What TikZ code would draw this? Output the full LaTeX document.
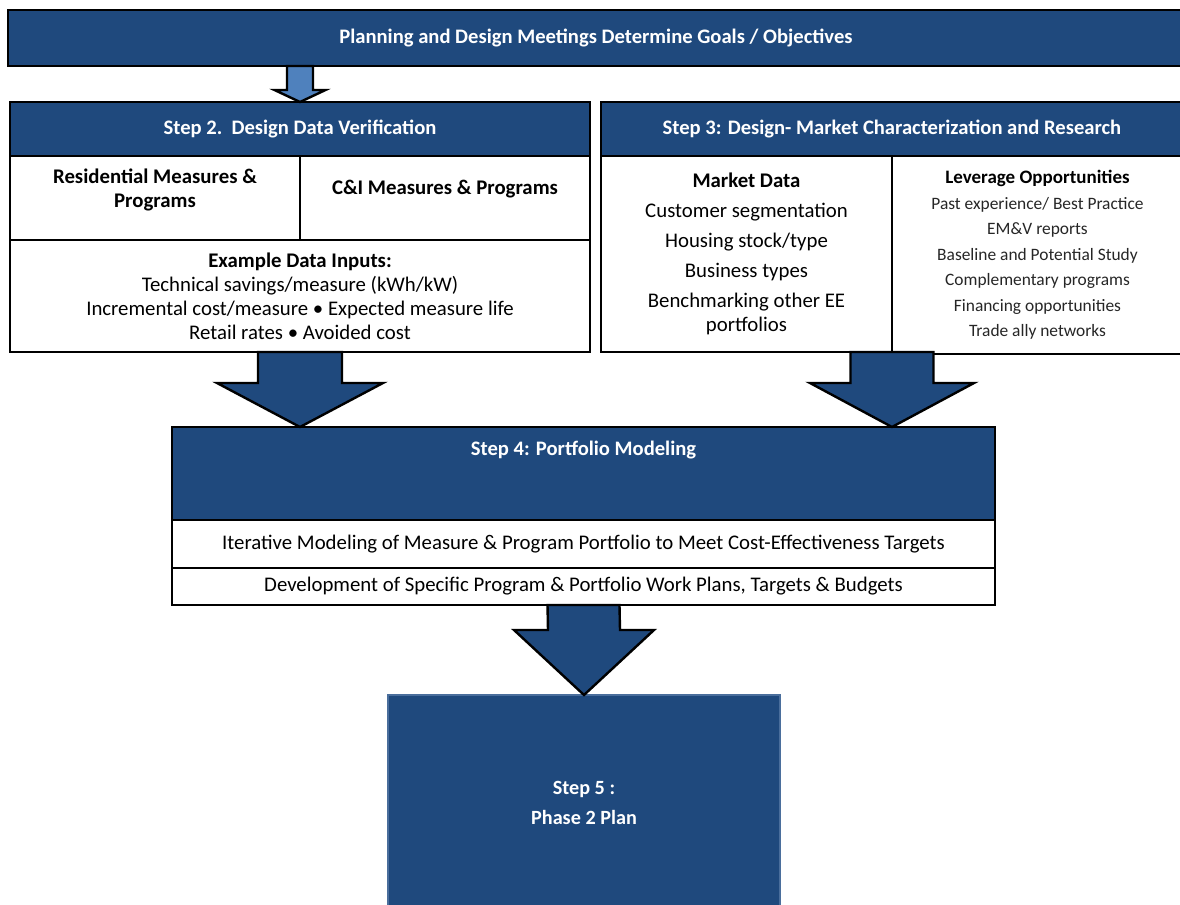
\documentclass[tikz,border=0pt]{standalone}
\usepackage{fontspec}
\setmainfont{Carlito}
\usetikzlibrary{positioning,calc}
\definecolor{darkblue}{HTML}{1F497D}
\definecolor{lightblue}{HTML}{4F81BD}
\definecolor{edgeblue}{HTML}{4A6E9C}

\newcommand{\blockarrow}[6][bigarrow]{%
  \draw[#1] ($(#2)+(-#4,0)$) -- ($(#2)+(#4,0)$)
    -- ($(#3)+(#4,-#6)$) -- ($(#3)+(#5,-#6)$) -- (#3)
    -- ($(#3)+(-#5,-#6)$) -- ($(#3)+(-#4,-#6)$) -- cycle;}

\begin{document}
\begin{tikzpicture}[x=0.5pt,y=-0.5pt,
    header/.style={draw=black, line width=1.2pt, fill=darkblue, text=white,
      font=\fontsize{10.3}{12}\selectfont\bfseries, inner sep=0pt, outer sep=0pt, align=center},
    cell/.style={draw=black, line width=1.2pt, fill=white, inner sep=0pt, outer sep=0pt,
      align=center, font=\fontsize{10.4}{12}\selectfont},
    boldcell/.style={cell, font=\fontsize{10.4}{12}\selectfont\bfseries},
    thincell/.style={cell, line width=0.7pt},
    bigarrow/.style={draw=black, line width=1.2pt, fill=darkblue, line join=miter},
    smallarrow/.style={bigarrow, fill=lightblue}]
  \useasboundingbox (0,0) rectangle (1180,905);
  \clip (0,0) rectangle (1180,905);

  % Bandeau du haut
  \node[header, minimum width=588pt, minimum height=28pt] (plan) at (596,38)
    {Planning and Design Meetings Determine Goals / Objectives};

  % Etape 2
  \node[header, minimum width=290pt, minimum height=27pt] (step2) at (300,129)
    {Step 2.\ \ Design Data Verification};
  \node[boldcell, minimum width=145pt, minimum height=42pt,
    text depth=10pt, below right=0pt and 0pt of step2.south west] (res)
    {Residential Measures \&\\Programs};
  \node[boldcell, minimum width=145pt, minimum height=42pt,
    text depth=11pt, right=0pt of res] (ci) {C\&I Measures \& Programs};
  \node[cell, minimum width=290pt, minimum height=56pt,
    below right=0pt and 0pt of res.south west] (inputs)
    {\textbf{Example Data Inputs:}\\Technical savings/measure (kWh/kW)\\
     Incremental cost/measure \textbullet{} Expected measure life\\Retail rates \textbullet{} Avoided cost};

  % Etape 3
  \node[header, minimum width=291pt, minimum height=27pt] (step3) at (892,129)
    {Step 3: Design- Market Characterization and Research};
  \node[cell, minimum width=145.5pt, minimum height=98pt,
    below right=0pt and 0pt of step3.south west] (market)
    {\textbf{Market Data}\\[3pt]Customer segmentation\\[3pt]Housing stock/type\\[3pt]Business types\\[3pt]
     Benchmarking other EE\\portfolios};
  \node[cell, font=\fontsize{8.7}{12.75}\selectfont, text=black!85, minimum width=145.5pt, minimum height=99pt,
    anchor=north west] (leverage) at (market.north east)
    {{\fontsize{9.5}{12.75}\selectfont\bfseries\color{black} Leverage Opportunities}\\Past experience/ Best Practice\\
     EM\&V reports\\Baseline and Potential Study\\Complementary programs\\Financing opportunities\\
     Trade ally networks};

  % Etape 4
  \node[header, minimum width=411.5pt, minimum height=46.5pt, text depth=25pt] (step4) at (583.5,473.5)
    {Step 4: Portfolio Modeling};
  \node[thincell, minimum width=411.5pt, minimum height=24pt,
    below right=0pt and 0pt of step4.south west] (iter)
    {Iterative Modeling of Measure \& Program Portfolio to Meet Cost-Effectiveness Targets};
  \node[thincell, minimum width=411.5pt, minimum height=18.5pt,
    below right=0pt and 0pt of iter.south west] (devel)
    {Development of Specific Program \& Portfolio Work Plans, Targets \& Budgets};

  % Etape 5
  \node[header, draw=edgeblue, line width=0.6pt, font=\fontsize{10.1}{12}\selectfont\bfseries,
    minimum width=196pt, minimum height=107.5pt]
    (step5) at (584,802.5) {Step 5 :\\[3pt]Phase 2 Plan};

  % Fleches
  \coordinate (s1) at (step2.north |- plan.south);
  \coordinate (s3) at (step3.south |- market.south);
  \coordinate (t2) at (inputs.south |- step4.north);
  \coordinate (t3) at (s3 |- step4.north);
  \blockarrow[smallarrow]{s1}{step2.north}{13}{25.5}{12}
  \blockarrow{inputs.south}{t2}{42}{83}{44}
  \blockarrow{s3}{t3}{41.5}{82}{44}
  \blockarrow{devel.south}{step5.north}{36}{70}{65}
\end{tikzpicture}
\end{document}
